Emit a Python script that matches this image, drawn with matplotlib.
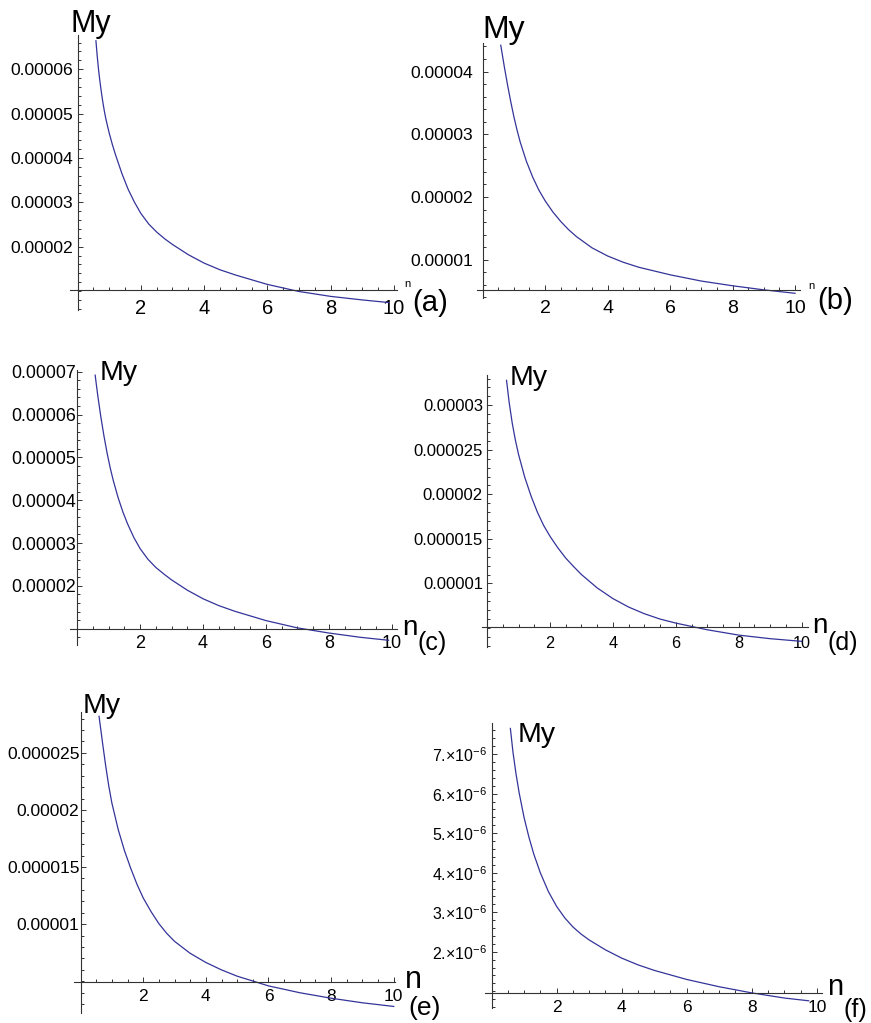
import matplotlib
matplotlib.use("Agg")
import matplotlib.pyplot as plt
import numpy as np

plt.rcParams['font.family'] = ['Liberation Sans', 'DejaVu Sans']
plt.rcParams['mathtext.fontset'] = 'custom'
plt.rcParams['mathtext.rm'] = 'Liberation Sans'
plt.rcParams['mathtext.it'] = 'Liberation Sans:italic'

W, H = 871, 1023

# My against n for the six cases
n_a = [0.58, 0.62, 0.66, 0.7, 0.75, 0.8, 0.85, 0.9, 1.0, 1.1, 1.2, 1.4, 1.6, 1.8, 2.0, 2.25,
       2.5, 2.75, 3.0, 3.5, 4.0, 4.5, 5.0, 6.0, 7.0, 8.0, 9.0, 9.85]
my_a = [6.64e-5, 6.30e-5, 6.01e-5, 5.76e-5, 5.49e-5, 5.25e-5, 5.04e-5, 4.86e-5, 4.56e-5, 4.30e-5,
        4.07e-5, 3.65e-5, 3.29e-5, 3.00e-5, 2.75e-5, 2.51e-5, 2.33e-5, 2.18e-5, 2.05e-5, 1.82e-5,
        1.63e-5, 1.48e-5, 1.36e-5, 1.15e-5, 0.99e-5, 0.88e-5, 0.80e-5, 0.74e-5]

n_b = [0.58, 0.7, 0.8, 0.9, 1.0, 1.1, 1.2, 1.4, 1.6, 1.8, 2.0, 2.25, 2.5, 2.75, 3.0, 3.5,
       4.0, 4.5, 5.0, 6.0, 7.0, 8.0, 9.0, 10.0]
my_b = [4.42e-5, 4.06e-5, 3.78e-5, 3.52e-5, 3.28e-5, 3.07e-5, 2.88e-5, 2.57e-5, 2.32e-5, 2.11e-5,
        1.94e-5, 1.76e-5, 1.61e-5, 1.48e-5, 1.37e-5, 1.19e-5, 1.06e-5, 0.96e-5, 0.88e-5, 0.76e-5,
        0.66e-5, 0.585e-5, 0.52e-5, 0.465e-5]

n_c = [0.57, 0.65, 0.75, 0.85, 0.95, 1.05, 1.15, 1.3, 1.45, 1.6, 1.8, 2.0, 2.25, 2.5, 2.75,
       3.0, 3.5, 4.0, 4.5, 5.0, 6.0, 7.0, 8.0, 9.0, 9.9]
my_c = [6.92e-5, 6.46e-5, 5.95e-5, 5.50e-5, 5.10e-5, 4.75e-5, 4.45e-5, 4.06e-5, 3.73e-5, 3.45e-5,
        3.13e-5, 2.87e-5, 2.62e-5, 2.43e-5, 2.28e-5, 2.14e-5, 1.90e-5, 1.70e-5, 1.54e-5, 1.41e-5,
        1.19e-5, 1.02e-5, 0.90e-5, 0.80e-5, 0.73e-5]

n_d = [0.62, 0.7, 0.8, 0.9, 1.0, 1.2, 1.4, 1.6, 1.8, 2.0, 2.25, 2.5, 2.75, 3.0, 3.5, 4.0,
       4.5, 5.0, 5.5, 6.0, 7.0, 8.0, 9.0, 10.0]
my_d = [3.28e-5, 3.04e-5, 2.80e-5, 2.61e-5, 2.45e-5, 2.19e-5, 1.98e-5, 1.80e-5, 1.65e-5, 1.53e-5,
        1.40e-5, 1.285e-5, 1.19e-5, 1.10e-5, 0.95e-5, 0.83e-5, 0.735e-5, 0.66e-5, 0.60e-5,
        0.555e-5, 0.48e-5, 0.42e-5, 0.38e-5, 0.35e-5]

n_e = [0.59, 0.7, 0.8, 0.9, 1.0, 1.2, 1.4, 1.6, 1.8, 2.0, 2.25, 2.5, 2.75, 3.0, 3.5, 4.0,
       4.5, 5.0, 6.0, 7.0, 8.0, 9.0, 10.0]
my_e = [2.82e-5, 2.59e-5, 2.39e-5, 2.21e-5, 2.06e-5, 1.83e-5, 1.645e-5, 1.49e-5, 1.35e-5, 1.23e-5,
        1.11e-5, 1.005e-5, 0.92e-5, 0.85e-5, 0.745e-5, 0.665e-5, 0.60e-5, 0.545e-5, 0.46e-5,
        0.40e-5, 0.352e-5, 0.312e-5, 0.28e-5]

n_f = [0.58, 0.66, 0.75, 0.85, 1.0, 1.15, 1.3, 1.5, 1.75, 2.0, 2.25, 2.5, 2.75, 3.0, 3.5,
       4.0, 4.5, 5.0, 6.0, 7.0, 8.0, 9.0, 9.75]
my_f = [7.65e-6, 7.05e-6, 6.52e-6, 6.02e-6, 5.40e-6, 4.90e-6, 4.47e-6, 4.00e-6, 3.52e-6, 3.15e-6,
        2.86e-6, 2.63e-6, 2.45e-6, 2.30e-6, 2.05e-6, 1.84e-6, 1.67e-6, 1.53e-6, 1.30e-6, 1.115e-6,
        0.96e-6, 0.83e-6, 0.76e-6]

xticks = [2, 4, 6, 8, 10]
xtick_labels = ['2', '4', '6', '8', '10']

yticks_a = [2e-5, 3e-5, 4e-5, 5e-5, 6e-5]
ylabels_a = ['0.00002', '0.00003', '0.00004', '0.00005', '0.00006']
yticks_b = [1e-5, 2e-5, 3e-5, 4e-5]
ylabels_b = ['0.00001', '0.00002', '0.00003', '0.00004']
yticks_c = [2e-5, 3e-5, 4e-5, 5e-5, 6e-5, 7e-5]
ylabels_c = ['0.00002', '0.00003', '0.00004', '0.00005', '0.00006', '0.00007']
yticks_d = [1e-5, 1.5e-5, 2e-5, 2.5e-5, 3e-5]
ylabels_d = ['0.00001', '0.000015', '0.00002', '0.000025', '0.00003']
yticks_e = [1e-5, 1.5e-5, 2e-5, 2.5e-5]
ylabels_e = ['0.00001', '0.000015', '0.00002', '0.000025']
yticks_f = [2e-6, 3e-6, 4e-6, 5e-6, 6e-6, 7e-6]
ylabels_f = [f'{k}.×10$^{{-6}}$' for k in range(2, 8)]

tags = ['(a)', '(b)', '(c)', '(d)', '(e)', '(f)']

# box = left, right, top, bottom in pixels; text positions are (x, baseline, size)
layout = [
    dict(n=n_a, my=my_a, yt=yticks_a, ytl=ylabels_a, box=(70, 397, 35, 310),
         xlim=(-0.24, 10.1), ylim=(0.573e-5, 6.77e-5), y0=1.03e-5, ystep=0.2e-5,
         yfs=12.6, xfs=14.5, ypad=3, xpad=7,
         my_t=(70, 32, 22), n_t=(404, 287, 8), tag_t=(412, 311, 21)),
    dict(n=n_b, my=my_b, yt=yticks_b, ytl=ylabels_b, box=(476.7, 800, 43.3, 298),
         xlim=(-0.19, 10.16), ylim=(0.39e-5, 4.45e-5), y0=0.52e-5, ystep=0.2e-5,
         yfs=12.6, xfs=14, ypad=7, xpad=7,
         my_t=(482, 38, 23), n_t=(808, 289, 8), tag_t=(817, 309, 21)),
    dict(n=n_c, my=my_c, yt=yticks_c, ytl=ylabels_c, box=(70, 396.7, 370, 645),
         xlim=(-0.23, 10.16), ylim=(0.62e-5, 7.04e-5), y0=1.0e-5, ystep=0.2e-5,
         yfs=12.8, xfs=13, ypad=1.2, xpad=4.8,
         my_t=(100, 380, 20.5), n_t=(402, 635, 20), tag_t=(417, 650, 18)),
    dict(n=n_d, my=my_d, yt=yticks_d, ytl=ylabels_d, box=(481.7, 808.3, 375, 646.7),
         xlim=(-0.17, 10.21), ylim=(0.29e-5, 3.34e-5), y0=0.507e-5, ystep=0.1e-5,
         yfs=12, xfs=11.7, ypad=3, xpad=6.5,
         my_t=(510, 385, 20.5), n_t=(812, 633, 20), tag_t=(827, 650, 18)),
    dict(n=n_e, my=my_e, yt=yticks_e, ytl=ylabels_e, box=(74, 395, 711.7, 1013.3),
         xlim=(-0.21, 10.04), ylim=(0.22e-5, 2.86e-5), y0=0.49e-5, ystep=0.1e-5,
         yfs=12.6, xfs=12.5, ypad=0.7, xpad=5,
         my_t=(83, 713, 20.5), n_t=(405, 988, 22), tag_t=(408, 1015, 19)),
    dict(n=n_f, my=my_f, yt=yticks_f, ytl=ylabels_f, box=(485, 821.7, 723.3, 1008.3),
         xlim=(-0.2, 10.15), ylim=(0.57e-6, 7.78e-6), y0=0.96e-6, ystep=0.2e-6,
         yfs=11.5, xfs=12.5, ypad=3.6, xpad=5.3,
         my_t=(518, 742, 20.5), n_t=(827, 995, 21), tag_t=(843, 1017, 18)),
]

fig = plt.figure(figsize=(W / 100, H / 100), dpi=100)
axis_col = '#333333'

for tag, p in zip(tags, layout):
    l, r, t, b = p['box']
    ax = fig.add_axes([l / W, 1 - b / H, (r - l) / W, (b - t) / H])
    ax.plot(p['n'], p['my'], color='#34349a', lw=0.9)
    ax.set_xlim(*p['xlim'])
    ax.set_ylim(*p['ylim'])
    ax.patch.set_visible(False)

    for side in ('top', 'right'):
        ax.spines[side].set_visible(False)
    ax.spines['left'].set_position(('data', 0))
    ax.spines['bottom'].set_position(('data', p['y0']))
    for side in ('left', 'bottom'):
        ax.spines[side].set_color(axis_col)
        ax.spines[side].set_linewidth(0.8)

    ax.set_xticks(xticks, labels=xtick_labels)
    ax.set_xticks(np.arange(0.5, 10.01, 0.5), minor=True)
    ax.set_yticks(p['yt'], labels=p['ytl'])
    lo, hi = p['ylim']
    s = p['ystep']
    ax.set_yticks(np.arange(np.ceil(lo / s) * s, hi, s), minor=True)

    ax.tick_params(which='both', direction='in', color=axis_col, width=0.7)
    ax.tick_params(which='major', length=3.8)
    ax.tick_params(which='minor', length=2)
    ax.tick_params(axis='x', which='major', labelsize=p['xfs'], pad=p['xpad'])
    ax.tick_params(axis='y', which='major', labelsize=p['yfs'], pad=p['ypad'])

    x, yb, fs = p['my_t']
    fig.text(x / W, 1 - yb / H, 'My', fontsize=fs, va='baseline', ha='left')
    x, yb, fs = p['n_t']
    fig.text(x / W, 1 - yb / H, 'n', fontsize=fs, va='baseline', ha='left')
    x, yb, fs = p['tag_t']
    fig.text(x / W, 1 - yb / H, tag, fontsize=fs, va='baseline', ha='left')

fig.savefig('out.png', dpi=100, facecolor='white')
